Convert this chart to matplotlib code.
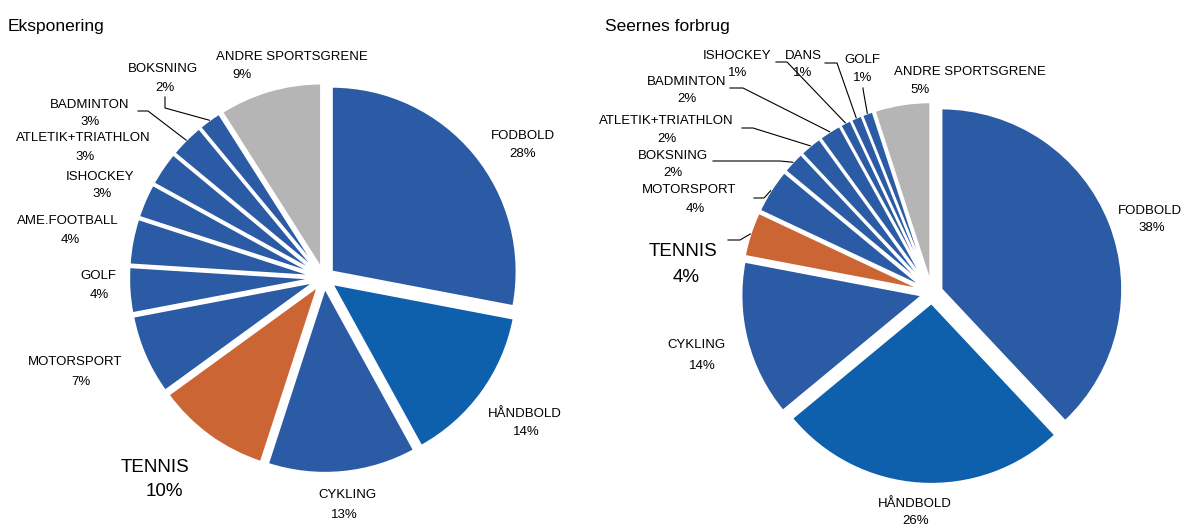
#!/usr/bin/env python3
"""Eksponering vs. seernes forbrug - two exploded pies"""

import numpy as np
import matplotlib
matplotlib.use('Agg')
import matplotlib.pyplot as plt

plt.rcParams['font.family'] = ['Liberation Sans', 'DejaVu Sans']

# ---- data ----
sports_left = ['FODBOLD', 'HÅNDBOLD', 'CYKLING', 'TENNIS', 'MOTORSPORT', 'GOLF',
               'AME.FOOTBALL', 'ISHOCKEY', 'ATLETIK+TRIATHLON', 'BADMINTON',
               'BOKSNING', 'ANDRE SPORTSGRENE']
share_left = [28, 14, 13, 10, 7, 4, 4, 3, 3, 3, 2, 9]

sports_right = ['FODBOLD', 'HÅNDBOLD', 'CYKLING', 'TENNIS', 'MOTORSPORT', 'BOKSNING',
                'ATLETIK+TRIATHLON', 'BADMINTON', 'ISHOCKEY', 'DANS', 'GOLF',
                'ANDRE SPORTSGRENE']
share_right = [38, 26, 14, 4, 4, 2, 2, 2, 1, 1, 1, 5]

# ---- style ----
BLUE = '#2a5ba4'
BLUE2 = '#0e5fac'
ORANGE = '#cb6533'
GREY = '#b5b5b5'


def colour(name):
    if name == 'HÅNDBOLD':
        return BLUE2
    if name == 'TENNIS':
        return ORANGE
    if name == 'ANDRE SPORTSGRENE':
        return GREY
    return BLUE


W, H = 1183, 526

# label positions in pixels (x, y from top): name line, percent line
pos_left = {
    'FODBOLD': ((523, 136), (523, 154)),
    'HÅNDBOLD': ((525, 414), (526, 432)),
    'CYKLING': ((347, 495), (344, 515)),
    'TENNIS': ((155, 467), (164, 492)),
    'MOTORSPORT': ((75, 362), (81, 382)),
    'GOLF': ((98, 276), (99, 295)),
    'AME.FOOTBALL': ((68, 221), (70, 240)),
    'ISHOCKEY': ((100, 177), (102, 194)),
    'ATLETIK+TRIATHLON': ((83, 138), (85, 157)),
    'BADMINTON': ((90, 105), (90, 122)),
    'BOKSNING': ((163, 69), (165, 88)),
    'ANDRE SPORTSGRENE': ((292, 57), (242, 75)),
}
pos_right = {
    'FODBOLD': ((1150, 211), (1152, 228)),
    'HÅNDBOLD': ((915, 504), (916, 521)),
    'CYKLING': ((696, 345), (702, 366)),
    'TENNIS': ((683, 252), (686, 277)),
    'MOTORSPORT': ((689, 190), (695, 209)),
    'BOKSNING': ((673, 156), (673, 173)),
    'ATLETIK+TRIATHLON': ((666, 121), (667, 139)),
    'BADMINTON': ((687, 82), (687, 99)),
    'ISHOCKEY': ((737, 56), (738, 73)),
    'DANS': ((803, 56), (803, 73)),
    'GOLF': ((862, 60), (863, 78)),
    'ANDRE SPORTSGRENE': ((970, 72), (920, 90)),
}

# leader lines: start point and elbow (pixels), end is on the wedge
lead_left = {
    'BOKSNING': ((165, 97), (165, 108)),
    'BADMINTON': ((138, 111), (148, 111)),
}
lead_right = {
    'TENNIS': ((728, 240), (740, 240)),
    'MOTORSPORT': ((754, 198), (764, 198)),
    'BOKSNING': ((713, 161), (780, 161)),
    'ATLETIK+TRIATHLON': ((742, 128), (753, 128)),
    'BADMINTON': ((730, 88), (743, 88)),
    'ISHOCKEY': ((776, 62), (787, 62)),
    'DANS': ((825, 63), (837, 63)),
    'GOLF': ((863, 88), (863, 89)),
}

fig = plt.figure(figsize=(W / 100, H / 100), dpi=100)
ax = fig.add_axes([0, 0, 1, 1])


def py(y):
    return H - y


def draw_pie(names, values, center, radius, explode, title, title_x, pos, leads):
    wedges, _ = ax.pie(values, colors=[colour(n) for n in names], startangle=90,
                       counterclock=False, radius=radius, center=(center[0], py(center[1])),
                       explode=[explode] * len(values),
                       wedgeprops=dict(edgecolor='white', linewidth=1.6))
    ax.text(title_x, py(27), title, fontsize=12.5, ha='left', va='center')
    for name, val, w in zip(names, values, wedges):
        big = name == 'TENNIS'
        fs = 13.5 if big else 9.5
        (nx, ny), (qx, qy) = pos[name]
        ax.text(nx, py(ny), name, fontsize=fs, ha='center', va='center')
        ax.text(qx, py(qy), f'{val}%', fontsize=fs, ha='center', va='center')
        if name in leads:
            (sx, sy), (ex, ey) = leads[name]
            ang = np.deg2rad((w.theta1 + w.theta2) / 2)
            cx, cy = w.center
            tx = cx + w.r * np.cos(ang)
            ty = cy + w.r * np.sin(ang)
            ax.plot([sx, ex, tx], [py(sy), py(ey), ty], color='black', lw=0.8)


draw_pie(sports_left, share_left, (324, 278), 185, 10, 'Eksponering', 8,
         pos_left, lead_left)
draw_pie(sports_right, share_right, (932, 293), 181, 10, 'Seernes forbrug', 605,
         pos_right, lead_right)

ax.set_xlim(0, W)
ax.set_ylim(0, H)
ax.set_aspect('auto')
ax.axis('off')

plt.savefig('out.png', dpi=100)
